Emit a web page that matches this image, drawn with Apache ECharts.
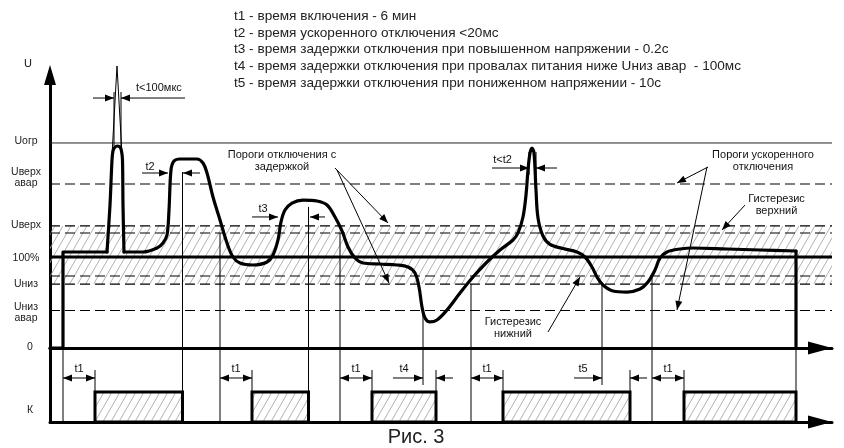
<!DOCTYPE html>
<html>
<head>
<meta charset="utf-8">
<title>Рис. 3</title>
<script src="https://cdn.jsdelivr.net/npm/echarts@6/dist/echarts.min.js"></script>
<style>
html,body{margin:0;padding:0;background:#fff;}
#chart{width:844px;height:448px;}
</style>
</head>
<body>
<div id="chart"></div>
<script>
// ================= DATA =================
const noteLines = [
  't1 - время включения - 6 мин',
  't2 - время ускоренного отключения <20мс',
  't3 - время задержки отключения при повышенном напряжении - 0.2с',
  't4 - время задержки отключения при провалах питания ниже Uниз авар  - 100мс',
  't5 - время задержки отключения при пониженном напряжении - 10с'
];
const figureCaption = 'Рис. 3';

// voltage levels (% of nominal, schematic)
const levelNames  = ['Uогр', 'Uверх авар', 'Uверх', 'Uверх - гистерезис', '100%', 'Uниз + гистерезис', 'Uниз', 'Uниз авар'];
const levelValues = [225.3, 180.2, 134.1, 126.4, 100, 79.1, 70.3, 41.2];
const hysteresisBand = [134.1, 70.3];

// y tick labels
const yTickValues = [227.5, 187.4, 135.2, 98.9, 70.3, 39, 1.1];
const yTickLabels = ['Uогр', 'Uверх\nавар', 'Uверх', '100%', 'Uниз', 'Uниз\nавар', '0'];
const relayTickValues = [0.4];
const relayTickLabels = ['К'];

const timeMax = 782;
const voltMax = 300;
const relayMax = 2.4667;

// voltage curve  [time, U%]
const curveStep  = [[0,0],[13,0],[13,105.5],[57,105.5]];
const curveSpike = [[57,105.5],[60,157.1],[62,206.6],[63,216.5],[65,220.9],[67.5,222.0],[70,220.9],[71.5,216.5],[72.5,206.6],[73,157.1],[74,105.5]];
const curveMain  = [[74,105.5],[93,105.5],[107,109.9],[113,115.4],[117,124.2],[119,151.6],[121,195.6],[124,205.5],[130,207.7],[147,207.7],[153,203.3],[157,192.3],[163,165.9],[170,140.7],[177,115.4],[183,100],[190,93.4],[203,91.2],[217,94.5],[223,102.2],[228,118.7],[231,138.5],[235,151.6],[242,159.3],[253,162.6],[267,161.5],[277,157.1],[285,144.0],[292,128.6],[298,111.0],[305,98.9],[313,93.4],[330,92.3],[347,91.2],[358,89.0],[365,82.4],[369,67.0],[372,45.1],[375,33.0],[380,28.6],[387,30.8],[397,41.8],[410,60.4],[423,78.0],[437,94.5],[450,107.7],[463,118.7],[468,126.4],[473,144.0],[476,168.1],[478,195.6],[480,214.3],[482,219.8],[484,214.3],[486,173.6],[488,142.9],[493,123.1],[500,113.9],[513,109.3],[527,105.5],[535,100],[542,89.0],[547,78.0],[553,69.2],[563,62.6],[577,61.5],[590,64.8],[598,72.5],[605,85.7],[610,98.9],[617,105.5],[630,108.8],[643,109.9],[677,108.8],[710,107.7],[746,106.6]];
const curveEnd   = [[746,106.6],[746,0]];

// vertical event markers in the voltage plot  [time, U% where it starts]
const voltMarkers = [[132.5,193.4],[170,126.4],[258.5,155],[290,126.4],[373,41.2],[421,70.3],[552,70.3],[602,79.1]];

// thin construction lines in the voltage plot [t1,U1,t2,U2]
const voltThin = [
  [67,309.9,62,212.1],[67,309.9,72,212.1],
  [64,281.3,64,222],[71,281.3,71,222],
  [479,215.4,479,190.1],[486,215.4,486,190.1]
];
// arrows in the voltage plot [fromT,fromU,toT,toU]
const voltArrows = [
  [43,274.7,64,274.7],[135,274.7,71,274.7],
  [92,192.3,118,192.3],[150,192.3,133,192.3],
  [202,144,228,144],[275,144,260,144],
  [442,197.8,479,197.8],[507,197.8,486,197.8],
  [285,197.8,338,137.4],[287,195.6,339,71.4],
  [658,198.9,627,181.3],[657,198.9,627,41.8],
  [695,157.1,672,129.7],
  [498,17.6,530,78]
];
// texts in the voltage plot [t, U, text, align]
const voltTexts = [
  [86,285.7,'t<100мкс','left'],
  [100,198.9,'t2','center'],
  [213,152.7,'t3','center'],
  [452.5,206.6,'t<t2','center'],
  [232,205.5,'Пороги отключения с\nзадержкой','center'],
  [713,205.5,'Пороги ускоренного\nотключения','center'],
  [726.5,157.7,'Гистерезис\nверхний','center'],
  [463,22,'Гистерезис\nнижний','center'],
  [-22,312.6,'U','center']
];

// relay (K) diagram
const relayOn = [[45,132.5],[202,258.5],[322,386],[453,580],[634,746]];
const relayFullLines = [13,132.5,170,258.5,290,421,602,746];
const relayShortLines = [373,552];
const relayEdgeStubs = [45,202,322,386,453,580,634];
const t1Spans = [[13,45],[170,202],[290,322],[421,453],[602,634]];
const relayArrows = [[343,373],[403,386],[524,552],[597,580]];
const relayTexts = [[29,'t1'],[186,'t1'],[306,'t1'],[437,'t1'],[618,'t1'],[354,'t4'],[533,'t5']];

// ================= DRAWING =================
const FONT = 'Liberation Sans';
const REL_ARROW = 1.467, REL_LABEL = 1.78, REL_STUB = 1.733, REL_SHORT = 1.233;

function makeHatch() {
  const W = 8, H = 14;
  const c = document.createElement('canvas');
  c.width = W; c.height = H;
  const g = c.getContext('2d');
  g.strokeStyle = '#a8a8a8'; g.lineWidth = 0.9;
  g.beginPath();
  for (const k of [-1, 0, 1]) { g.moveTo(k * W, H); g.lineTo(k * W + W, 0); }
  g.stroke();
  return c;
}
const hatchFill = { image: makeHatch(), repeat: 'repeat' };

function lineEl(a, b, st) {
  return { type: 'line', shape: { x1: a[0], y1: a[1], x2: b[0], y2: b[1] },
    style: Object.assign({ stroke: '#000', lineWidth: 1 }, st || {}) };
}
function headEl(tip, from, len, hw) {
  const dx = tip[0] - from[0], dy = tip[1] - from[1];
  const L = Math.hypot(dx, dy) || 1, ux = dx / L, uy = dy / L;
  const bx = tip[0] - ux * len, by = tip[1] - uy * len;
  return { type: 'polygon', shape: { points: [[tip[0], tip[1]], [bx - uy * hw, by + ux * hw], [bx + uy * hw, by - ux * hw]] },
    style: { fill: '#000' } };
}
function arrowEl(a, b, dbl) {
  const ch = [lineEl(a, b), headEl(b, a, 9, 3.5)];
  if (dbl) ch.push(headEl(a, b, 9, 3.5));
  return { type: 'group', children: ch };
}
function segRender(st) {
  return (p, api) => lineEl(api.coord([api.value(0), api.value(1)]), api.coord([api.value(2), api.value(3)]), st);
}
function textEl(pt, text, align, size) {
  return { type: 'text', x: pt[0], y: pt[1],
    style: { text: text, fill: '#111', fontSize: size || 11, fontFamily: FONT, align: align || 'center', verticalAlign: 'middle', lineHeight: 12 } };
}

const curveStyle = { color: '#000', width: 3.2, cap: 'round', join: 'round' };
function curveSeries(data, smooth) {
  return { type: 'line', xAxisIndex: 0, yAxisIndex: 0, data: data, smooth: smooth, showSymbol: false, symbol: 'none',
    lineStyle: curveStyle, z: 6, clip: false, silent: true };
}

const axisLineX = { show: true, onZero: false, symbol: ['none', 'triangle'], symbolSize: [13, 24], symbolOffset: [0, -12],
  lineStyle: { color: '#000', width: 3 } };

const option = {
  animation: false,
  backgroundColor: '#fff',
  grid: [
    { left: 50, top: 75, width: timeMax, height: 273, containLabel: false, outerBoundsMode: 'none' },
    { left: 50, top: 348, width: timeMax, height: 74, containLabel: false, outerBoundsMode: 'none' }
  ],
  xAxis: [
    { gridIndex: 0, type: 'value', min: 0, max: timeMax, axisLine: axisLineX, axisTick: { show: false }, axisLabel: { show: false }, splitLine: { show: false } },
    { gridIndex: 1, type: 'value', min: 0, max: timeMax, axisLine: axisLineX, axisTick: { show: false }, axisLabel: { show: false }, splitLine: { show: false } }
  ],
  yAxis: [
    { gridIndex: 0, type: 'value', min: 0, max: voltMax,
      axisLine: { show: true, onZero: false, symbol: ['none', 'triangle'], symbolSize: [12, 20], lineStyle: { color: '#000', width: 3 } },
      axisTick: { show: false }, splitLine: { show: false },
      axisLabel: { show: true, customValues: yTickValues, margin: 24, align: 'center', fontSize: 10.5, fontFamily: FONT, color: '#222', lineHeight: 11,
        formatter: function (v) {
          let best = 0;
          yTickValues.forEach((t, i) => { if (Math.abs(t - v) < Math.abs(yTickValues[best] - v)) best = i; });
          const s = yTickLabels[best];
          return s === '0' ? '{z|0}' : s;
        },
        rich: { z: { fontSize: 10.5, fontFamily: FONT, color: '#222', padding: [0, 0, 0, 8] } } } },
    { gridIndex: 1, type: 'value', min: 0, max: relayMax,
      axisLine: { show: true, onZero: false, lineStyle: { color: '#000', width: 3 } },
      axisTick: { show: false }, splitLine: { show: false },
      axisLabel: { show: true, customValues: relayTickValues, margin: 20, align: 'center', fontSize: 10.5, fontFamily: FONT, color: '#222',
        formatter: function () { return relayTickLabels[0]; } } }
  ],
  graphic: noteLines.map((t, i) => ({ type: 'text', x: 234, y: 16.5 + 16.6 * i, silent: true,
      style: { text: t, fontSize: 13.6, fontFamily: FONT, fill: '#222', verticalAlign: 'middle' } }))
    .concat([{ type: 'text', x: 416, y: 437, silent: true,
      style: { text: figureCaption, fontSize: 20, fontFamily: FONT, fill: '#222', align: 'center', verticalAlign: 'middle' } }]),
  series: [
    // hysteresis hatched band
    { type: 'custom', xAxisIndex: 0, yAxisIndex: 0, z: 1, silent: true,
      data: [[0, hysteresisBand[0], timeMax, hysteresisBand[1]]],
      renderItem: (p, api) => {
        const a = api.coord([api.value(0), api.value(1)]), b = api.coord([api.value(2), api.value(3)]);
        return { type: 'rect', shape: { x: a[0], y: a[1], width: b[0] - a[0], height: b[1] - a[1] }, style: { fill: hatchFill } };
      } },
    // voltage levels
    { type: 'custom', xAxisIndex: 0, yAxisIndex: 0, z: 2, silent: true,
      data: levelValues.map(v => [0, v, timeMax, v]),
      renderItem: (p, api) => {
        const a = api.coord([api.value(0), api.value(1)]), b = api.coord([api.value(2), api.value(3)]);
        const name = levelNames[p.dataIndex];
        let st;
        if (name === '100%') st = { lineWidth: 3 };
        else if (name === 'Uогр') st = { lineWidth: 1, stroke: '#222' };
        else st = { lineWidth: 1.2, stroke: '#000', lineDash: [10, 5] };
        return lineEl(a, b, st);
      } },
    // curve
    curveSeries(curveStep, false),
    curveSeries(curveSpike, 0.3),
    curveSeries(curveMain, 0.35),
    curveSeries(curveEnd, false),
    // event markers
    { type: 'custom', xAxisIndex: 0, yAxisIndex: 0, z: 4, silent: true,
      data: voltMarkers.map(m => [m[0], m[1], m[0], 0]), renderItem: segRender() },
    { type: 'custom', xAxisIndex: 0, yAxisIndex: 0, z: 4, silent: true,
      data: voltThin, renderItem: segRender() },
    { type: 'custom', xAxisIndex: 0, yAxisIndex: 0, z: 7, silent: true,
      data: voltArrows,
      renderItem: (p, api) => arrowEl(api.coord([api.value(0), api.value(1)]), api.coord([api.value(2), api.value(3)]), false) },
    { type: 'custom', xAxisIndex: 0, yAxisIndex: 0, z: 8, silent: true,
      data: voltTexts.map(d => [d[0], d[1]]),
      renderItem: (p, api) => {
        const d = voltTexts[p.dataIndex];
        return textEl(api.coord([api.value(0), api.value(1)]), d[2], d[3]);
      } },
    // relay rectangles
    { type: 'custom', xAxisIndex: 1, yAxisIndex: 1, z: 3, silent: true,
      data: relayOn.map(r => [r[0], 1, r[1], 0]),
      renderItem: (p, api) => {
        const a = api.coord([api.value(0), api.value(1)]), b = api.coord([api.value(2), api.value(3)]);
        return { type: 'rect', shape: { x: a[0], y: a[1], width: b[0] - a[0], height: b[1] - a[1] },
          style: { fill: hatchFill, stroke: '#000', lineWidth: 3 } };
      } },
    // relay vertical lines
    { type: 'custom', xAxisIndex: 1, yAxisIndex: 1, z: 2, silent: true,
      data: relayFullLines.map(t => [t, relayMax, t, 0])
        .concat(relayShortLines.map(t => [t, relayMax, t, REL_SHORT]))
        .concat(relayEdgeStubs.map(t => [t, 1, t, REL_STUB])),
      renderItem: segRender() },
    // relay arrows
    { type: 'custom', xAxisIndex: 1, yAxisIndex: 1, z: 5, silent: true,
      data: t1Spans.map(s => [s[0], REL_ARROW, s[1], REL_ARROW]),
      renderItem: (p, api) => arrowEl(api.coord([api.value(0), api.value(1)]), api.coord([api.value(2), api.value(3)]), true) },
    { type: 'custom', xAxisIndex: 1, yAxisIndex: 1, z: 5, silent: true,
      data: relayArrows.map(s => [s[0], REL_ARROW, s[1], REL_ARROW]),
      renderItem: (p, api) => arrowEl(api.coord([api.value(0), api.value(1)]), api.coord([api.value(2), api.value(3)]), false) },
    { type: 'custom', xAxisIndex: 1, yAxisIndex: 1, z: 6, silent: true,
      data: relayTexts.map(d => [d[0], REL_LABEL]),
      renderItem: (p, api) => textEl(api.coord([api.value(0), api.value(1)]), relayTexts[p.dataIndex][1], 'center') }
  ]
};

const chart = echarts.init(document.getElementById('chart'), null, { renderer: 'canvas', width: 844, height: 448 });
chart.setOption(option);
</script>
</body>
</html>
